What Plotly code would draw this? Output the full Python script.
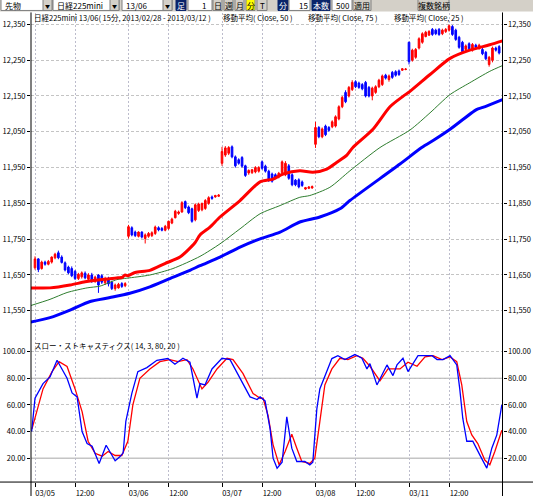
import plotly.graph_objects as go

W, H = 533, 498

# ---------------- data ----------------
bar_open = [
    11670, 11695, 11668, 11686, 11680, 11686, 11698, 11712, 11700, 11684, 11672, 11668, 11660, 11640,
    11645, 11655, 11638, 11650, 11632, 11650, 11648, 11628, 11640, 11630, 11612, 11614, 11626, 11620,
    11758, 11782, 11770, 11758, 11770, 11752, 11758, 11760, 11766, 11782, 11780, 11775, 11780, 11795,
    11810, 11822, 11826, 11855, 11840, 11835, 11804, 11830, 11832, 11836, 11850, 11868, 11868, 11870,
    11962, 11985, 11990, 12008, 11980, 11972, 11978, 11955, 11935, 11936, 11938, 11940, 11966, 11954,
    11940, 11932, 11930, 11924, 11936, 11930, 11955, 11930, 11915, 11916, 11910, 11890, 11892, 11893,
    12015, 12062, 12036, 12066, 12062, 12064, 12066, 12086, 12120, 12160, 12150, 12168, 12190, 12186,
    12182, 12188, 12174, 12150, 12160, 12176, 12182, 12208, 12196, 12216, 12218, 12220, 12222, 12224,
    12300, 12250, 12258, 12284, 12300, 12316, 12320, 12336, 12334, 12336, 12324, 12330, 12334, 12344,
    12334, 12314, 12300, 12280, 12296, 12278, 12292, 12282, 12280, 12272, 12238, 12250, 12284, 12288,
]
bar_high = [
    11702, 11697, 11690, 11690, 11692, 11702, 11712, 11718, 11705, 11688, 11676, 11674, 11664, 11656,
    11660, 11660, 11655, 11656, 11648, 11652, 11652, 11645, 11645, 11634, 11626, 11628, 11630, 11630,
    11790, 11786, 11774, 11772, 11772, 11766, 11770, 11772, 11788, 11786, 11784, 11790, 11802, 11810,
    11832, 11830, 11856, 11858, 11844, 11838, 11850, 11852, 11852, 11862, 11870, 11872, 11874, 11876,
    12008, 12010, 12010, 12012, 11984, 11976, 11982, 11958, 11945, 11946, 11954, 11954, 11970, 11958,
    11944, 11936, 11934, 11938, 11970, 11968, 11960, 11934, 11918, 11920, 11914, 11896, 11898, 11900,
    12078, 12066, 12062, 12070, 12066, 12082, 12096, 12124, 12150, 12166, 12178, 12194, 12194, 12190,
    12186, 12192, 12178, 12176, 12180, 12198, 12210, 12212, 12210, 12220, 12222, 12224, 12228, 12228,
    12302, 12282, 12284, 12314, 12328, 12332, 12334, 12340, 12338, 12340, 12338, 12340, 12350, 12348,
    12338, 12318, 12304, 12294, 12300, 12298, 12296, 12296, 12284, 12276, 12262, 12288, 12288, 12292,
]
bar_low = [
    11665, 11658, 11665, 11676, 11677, 11682, 11694, 11694, 11682, 11660, 11652, 11644, 11636, 11636,
    11640, 11638, 11632, 11628, 11628, 11600, 11625, 11622, 11618, 11608, 11606, 11612, 11614, 11616,
    11752, 11758, 11756, 11755, 11752, 11738, 11754, 11756, 11762, 11772, 11772, 11772, 11776, 11792,
    11808, 11818, 11824, 11834, 11820, 11796, 11800, 11826, 11828, 11832, 11846, 11860, 11866, 11868,
    11955, 11980, 11985, 11976, 11950, 11958, 11950, 11924, 11930, 11932, 11934, 11936, 11944, 11936,
    11910, 11908, 11918, 11920, 11934, 11926, 11916, 11898, 11898, 11892, 11896, 11888, 11890, 11891,
    12005, 12032, 12032, 12038, 12050, 12060, 12062, 12082, 12116, 12130, 12146, 12164, 12172, 12170,
    12166, 12146, 12146, 12138, 12156, 12172, 12178, 12196, 12190, 12198, 12204, 12206, 12220, 12222,
    12238, 12246, 12254, 12280, 12296, 12314, 12318, 12318, 12320, 12318, 12320, 12326, 12330, 12318,
    12304, 12282, 12270, 12276, 12278, 12274, 12282, 12280, 12264, 12250, 12232, 12244, 12274, 12266,
]
bar_close = [
    11695, 11665, 11686, 11680, 11688, 11700, 11708, 11698, 11685, 11664, 11656, 11648, 11640, 11652,
    11656, 11642, 11650, 11632, 11644, 11622, 11630, 11640, 11625, 11612, 11622, 11624, 11618, 11626,
    11785, 11762, 11760, 11770, 11756, 11762, 11766, 11768, 11784, 11776, 11775, 11786, 11800, 11806,
    11828, 11826, 11852, 11838, 11824, 11800, 11846, 11848, 11850, 11858, 11866, 11864, 11872, 11873,
    11995, 12005, 12006, 11980, 11955, 11962, 11954, 11928, 11942, 11944, 11950, 11950, 11948, 11940,
    11914, 11912, 11922, 11934, 11966, 11962, 11920, 11902, 11902, 11896, 11900, 11894, 11896, 11897,
    12062, 12036, 12058, 12042, 12054, 12078, 12092, 12120, 12146, 12134, 12174, 12188, 12176, 12174,
    12170, 12150, 12150, 12172, 12176, 12194, 12206, 12200, 12206, 12202, 12208, 12210, 12226, 12225,
    12246, 12278, 12280, 12310, 12324, 12328, 12330, 12322, 12324, 12322, 12334, 12336, 12346, 12322,
    12308, 12286, 12274, 12290, 12282, 12294, 12286, 12292, 12268, 12254, 12258, 12284, 12278, 12270,
]
bar_index = list(range(len(bar_open)))

ma25_x = [-1.2, 4.5, 10.5, 15, 19.5, 24.9, 26, 27, 27.8, 30, 34.4, 38.9, 43.4, 47.9, 49.4, 52.4, 55.4,
          61.4, 67.4, 71.3, 74.3, 79.3, 83.2, 87.4, 90.4, 93.4, 95.2, 101.2, 106.3, 110.2, 112.3,
          118.3, 124.3, 130.2, 136.2, 140]
ma25 = [11614, 11614, 11622, 11631, 11637, 11642, 11643, 11650, 11648, 11657, 11663, 11682, 11700,
        11740, 11762, 11784, 11812, 11858, 11910, 11918, 11932, 11941, 11937, 11946, 11965, 11985,
        12006, 12057, 12120, 12149, 12163, 12210, 12255, 12278, 12293, 12304]

ma50_x = [-1.5, 4.5, 9.6, 15.6, 19.5, 24.5, 27.5, 34.4, 41.3, 49.4, 55.4, 61.4, 67.4, 73.4, 79.3,
          82.3, 88.3, 94.3, 103.3, 112.3, 118.3, 124.3, 130.2, 136.2, 140]
ma50 = [11564, 11582, 11601, 11614, 11619, 11637, 11641, 11650, 11668, 11702, 11737, 11779, 11821,
        11844, 11867, 11872, 11895, 11941, 12006, 12055, 12103, 12154, 12187, 12219, 12235]

ma75_x = [-1.5, 4.5, 10.5, 16.5, 22.5, 28.4, 34.4, 40.4, 46.4, 49.4, 55.4, 61.4, 67.4, 73.4, 79.3,
          85.3, 91.3, 94.3, 109.3, 115.8, 119.8, 124.3, 132.2, 134.1, 140]
ma75 = [11518, 11531, 11552, 11576, 11587, 11599, 11617, 11640, 11663, 11676, 11700, 11728, 11751,
        11770, 11798, 11812, 11835, 11858, 11960, 12006, 12029, 12057, 12112, 12118, 12140]

stoch_k_x = [-1.0, 0, 2.4, 4.5, 6.6, 8.1, 9.6, 11.1, 12.6, 14.1, 15.6, 17.1, 18.6, 19.2, 21.3, 24, 25.4,
             26.4, 27.2, 27.8, 29, 30.8, 33.5, 36.5, 39.8, 41.9, 44.3, 46.4, 47.3, 48.5, 49.4, 50.9, 53,
             56, 58.4, 61.4, 64.4, 66.5, 67.4, 68.9, 70.4, 71.3, 72.5, 74, 75.4, 76.9, 78.4, 80.8, 82.3,
             83.2, 84.4, 85.3, 87.4, 88.9, 90.7, 92.8, 95.8, 97.9, 99.4, 100.3, 102.4, 105.4, 107.2,
             108.4, 110.2, 111.7, 114.7, 118.9, 120.4, 122.2, 124.3, 126.3, 127.2, 128.1, 129.3, 131.1,
             133.2, 135.3, 136.8, 138.3, 139.8]
stoch_k = [40, 65, 76, 81, 93.5, 87, 80, 69, 66, 40, 31, 29, 19, 16, 29.7, 18, 21, 24, 47.6, 55,
           68.6, 85, 88, 93.5, 94.8, 90.5, 95, 92, 80, 65, 76, 75, 87, 95, 94, 80, 66, 64, 66, 63,
           42, 20, 12.5, 17, 51, 27.5, 17.5, 17.5, 15, 17, 57, 72, 85, 94.8, 97, 94, 97.8, 95, 87, 91,
           75, 90, 82, 90, 95, 85, 97, 97, 94, 94, 97, 90, 72, 50, 32.7, 32.7, 22.5, 12.5, 27.5, 37.5,
           60]

stoch_d_x = [-0.9, 0.6, 2.4, 5.1, 7.2, 9.6, 12, 14.1, 15.9, 18, 20.1, 21.9, 24, 26, 27.8, 29.3, 31.4,
             34.4, 37.4, 40.4, 42.8, 45.5, 47.3, 50, 51.8, 54.5, 57.5, 59.3, 62.3, 65.3, 67.4, 68.3,
             69.8, 71.3, 73.1, 74.9, 76.9, 78.4, 79.9, 82.3, 83.8, 85.3, 86.8, 88.9, 91.3, 93.7, 96.4,
             98.2, 100.3, 103.3, 105.7, 109.3, 111.7, 114.4, 116.8, 119.2, 121.9, 124.3, 126.3, 127.8,
             129.3, 130.8, 132.6, 134.7, 136.2, 137.7, 139.8]
stoch_d = [42, 55, 72, 85, 92.5, 88.8, 72, 55, 32.7, 23.7, 21.5, 25, 22, 22, 32.7, 60, 80, 87, 92.5,
           94, 92.5, 94, 87, 72, 77, 87, 95, 94, 83.5, 68.6, 65, 65, 52, 30, 15, 25, 38, 27.5, 17.5,
           16, 20, 47.5, 75, 87, 95, 94, 97, 95, 89, 78, 87, 87, 92, 89, 96, 97, 94, 96, 92.5, 75,
           47.5, 37.5, 31, 18.6, 15, 25, 41]

time_tick_pos = [0, 12, 28, 40, 56, 68, 84, 96, 112, 124]
time_tick_labels = ["03/05", "12:00", "03/06", "12:00", "03/07", "12:00", "03/08", "12:00", "03/11", "12:00"]
price_ticks = [11550, 11650, 11750, 11850, 11950, 12050, 12150, 12250, 12350]
price_tick_labels = ["11,550", "11,650", "11,750", "11,850", "11,950", "12,050", "12,150", "12,250", "12,350"]
stoch_ticks = [20, 40, 60, 80, 100]
stoch_tick_labels = ["20.00", "40.00", "60.00", "80.00", "100.00"]

assert len(bar_open) == len(bar_high) == len(bar_low) == len(bar_close)
assert len(ma25_x) == len(ma25) and len(ma50_x) == len(ma50) and len(ma75_x) == len(ma75)
assert len(stoch_k_x) == len(stoch_k) and len(stoch_d_x) == len(stoch_d)

# ---------------- layout helpers ----------------
FONT = "Noto Sans CJK JP"
NB = "\u00a0"


def X(px):
    return px / W


def Y(py):
    return 1 - py / H


RED = "#ff0000"
BLUE = "#0000ff"
GREEN = "#2e7d2e"
GRID = "#bcbccc"

fig = go.Figure()

fig.add_trace(go.Candlestick(
    x=bar_index, open=bar_open, high=bar_high, low=bar_low, close=bar_close,
    xaxis="x", yaxis="y",
    increasing=dict(line=dict(color=RED, width=1), fillcolor=RED),
    decreasing=dict(line=dict(color=BLUE, width=1), fillcolor=BLUE),
    whiskerwidth=0, showlegend=False, hoverinfo="skip",
))
fig.add_trace(go.Scatter(x=ma75_x, y=ma75, mode="lines",
                         line=dict(color=BLUE, width=3, shape="spline", smoothing=0.7),
                         xaxis="x", yaxis="y", showlegend=False, hoverinfo="skip"))
fig.add_trace(go.Scatter(x=ma50_x, y=ma50, mode="lines",
                         line=dict(color=GREEN, width=1, shape="spline", smoothing=0.7),
                         xaxis="x", yaxis="y", showlegend=False, hoverinfo="skip"))
fig.add_trace(go.Scatter(x=ma25_x, y=ma25, mode="lines",
                         line=dict(color=RED, width=3, shape="spline", smoothing=0.7),
                         xaxis="x", yaxis="y", showlegend=False, hoverinfo="skip"))
# mirror axis carrier (invisible)
fig.add_trace(go.Scatter(x=[bar_index[0]], y=[bar_close[0]], mode="markers", marker=dict(opacity=0),
                         xaxis="x", yaxis="y3", showlegend=False, hoverinfo="skip"))

fig.add_trace(go.Scatter(x=stoch_d_x, y=stoch_d, mode="lines", line=dict(color=RED, width=1.3),
                         xaxis="x2", yaxis="y2", showlegend=False, hoverinfo="skip"))
fig.add_trace(go.Scatter(x=stoch_k_x, y=stoch_k, mode="lines", line=dict(color=BLUE, width=1.3),
                         xaxis="x2", yaxis="y2", showlegend=False, hoverinfo="skip"))
fig.add_trace(go.Scatter(x=[bar_index[0]], y=[stoch_k[0]], mode="markers", marker=dict(opacity=0),
                         xaxis="x2", yaxis="y4", showlegend=False, hoverinfo="skip"))

x_dom = [X(31), X(502.5)]
main_dom = [Y(339), Y(13)]
stoch_dom = [Y(484), Y(339)]
x_range = [-1.2, 140.0]
main_range = [11475, 12382]
stoch_range = [2.06, 110.5]

tickfont = dict(family=FONT, size=7.5, color="black")

common_x = dict(domain=x_dom, range=x_range, tickvals=time_tick_pos, showgrid=True, gridcolor=GRID,
                griddash="2px,2px", gridwidth=1, zeroline=False, showline=False)
common_y = dict(showgrid=False, zeroline=False, showline=False, ticks="outside", ticklen=3,
                tickcolor="black", tickwidth=1, tickfont=tickfont)

fig.update_layout(
    width=W, height=H,
    margin=dict(l=0, r=0, t=0, b=0),
    paper_bgcolor="white", plot_bgcolor="white",
    font=dict(family=FONT, size=7.5, color="black"),
    showlegend=False,
    xaxis=dict(**common_x, anchor="y", showticklabels=False, ticks="", rangeslider=dict(visible=False)),
    xaxis2=dict(**common_x, anchor="y2", matches="x", ticktext=time_tick_labels, ticks="outside",
                ticklen=4, tickcolor="black", tickfont=tickfont, ticklabelshift=10),
    yaxis=dict(common_y, domain=main_dom, range=main_range, anchor="x", side="left",
               tickvals=price_ticks, ticktext=price_tick_labels,
               showgrid=True, gridcolor="#c4c4c4", griddash="3px,2px"),
    yaxis3=dict(common_y, overlaying="y", anchor="x", side="right", range=main_range,
                tickvals=price_ticks, ticktext=price_tick_labels),
    yaxis2=dict(common_y, domain=stoch_dom, range=stoch_range, anchor="x2", side="left",
                tickvals=stoch_ticks, ticktext=stoch_tick_labels,
                showgrid=True, gridcolor="#c4c4c4", griddash="3px,2px"),
    yaxis4=dict(common_y, overlaying="y2", anchor="x2", side="right", range=stoch_range,
                tickvals=stoch_ticks, ticktext=stoch_tick_labels),
)

shapes = []
annotations = []

# solid 80 / 20 levels in the oscillator panel
for lvl in (80, 20):
    shapes.append(dict(type="line", xref="x2 domain", yref="y2", x0=0, x1=1, y0=lvl, y1=lvl,
                       line=dict(color="#a8a8a8", width=1), layer="below"))

# frame lines
shapes.append(dict(type="line", xref="paper", yref="paper", x0=X(31), x1=X(31), y0=Y(498), y1=Y(12.5),
                   line=dict(color="black", width=1)))
shapes.append(dict(type="line", xref="paper", yref="paper", x0=X(502.5), x1=X(502.5), y0=Y(498), y1=Y(12.5),
                   line=dict(color="black", width=1)))
shapes.append(dict(type="line", xref="paper", yref="paper", x0=0, x1=1, y0=Y(484), y1=Y(484),
                   line=dict(color="black", width=1)))


def rect(x0, y0, x1, y1, fill, line="#808080"):
    shapes.append(dict(type="rect", xref="paper", yref="paper", x0=X(x0), x1=X(x1), y0=Y(y1), y1=Y(y0),
                       fillcolor=fill, line=dict(color=line, width=1), layer="above"))


def text(px_, py_, s, size=7.5, color="black", anchor="left"):
    annotations.append(dict(xref="paper", yref="paper", x=X(px_), y=Y(py_), text=s, showarrow=False,
                            xanchor=anchor, yanchor="middle", borderpad=0,
                            font=dict(family=FONT, size=size, color=color)))


# toolbar (top)
shapes.append(dict(type="rect", xref="paper", yref="paper", x0=0, x1=1, y0=Y(11.5), y1=1.01,
                   fillcolor="#d4d0c8", line=dict(width=0), layer="above"))
NAVY = "#0a246a"
TB = 8
TY = 5.8
for (a, b, label) in [(1, 52, "先物"), (53, 119, "日経225mini"), (122, 172, "13/06")]:
    rect(a, -2, b, 10.5, "white")
    text(a + 3, TY, label, TB)
    rect(b - 9, -2, b, 10.5, "#d4d0c8")
    text(b - 4.5, TY, "▼", 5, anchor="center")
rect(176, -2, 186, 10.5, NAVY, NAVY)
text(181, TY, "足", TB, "white", "center")
rect(188, -2, 212, 10.5, "white")
text(204, TY, "1", TB, anchor="center")
for (a, b, label, fill) in [(213, 222, "日", "#d4d0c8"), (224, 233, "週", "#d4d0c8"),
                            (235, 244, "月", "#d4d0c8"), (246, 255, "分", "#ffff00"),
                            (257, 267, "T", "#d4d0c8")]:
    rect(a, -2, b, 10.5, fill)
    text((a + b) / 2, TY, label, TB, anchor="center")
rect(278, -2, 288, 10.5, NAVY, NAVY)
text(283, TY, "分", TB, "white", "center")
rect(289, -2, 310, 10.5, "white")
text(303, TY, "15", TB, anchor="center")
rect(312, -2, 330, 10.5, NAVY, NAVY)
text(321, TY, "本数", TB, "white", "center")
rect(332, -2, 352, 10.5, "white")
text(343, TY, "500", TB, anchor="center")
rect(353, -2, 371, 10.5, "#d4d0c8")
text(362, TY, "適用", TB, anchor="center")
rect(418, -2, 449, 10.5, "#d4d0c8")
text(433.5, TY, "複数銘柄", TB, anchor="center")

# chart captions
text(33, 18, "日経225mini 13/06(" + NB + "15分," + NB + "2013/02/28" + NB + "-" + NB + "2013/03/12" + NB + ")")
text(222, 18, "移動平均(" + NB + "Close," + NB + "50" + NB + ")")
text(307, 18, "移動平均(" + NB + "Close," + NB + "75" + NB + ")")
text(393, 18, "移動平均(" + NB + "Close," + NB + "25" + NB + ")")
text(33, 347, "スロー・ストキャスティクス(" + NB + "14," + NB + "3," + NB + "80," + NB + "20" + NB + ")")

fig.update_layout(shapes=shapes, annotations=annotations)
fig.write_html("out.html")
